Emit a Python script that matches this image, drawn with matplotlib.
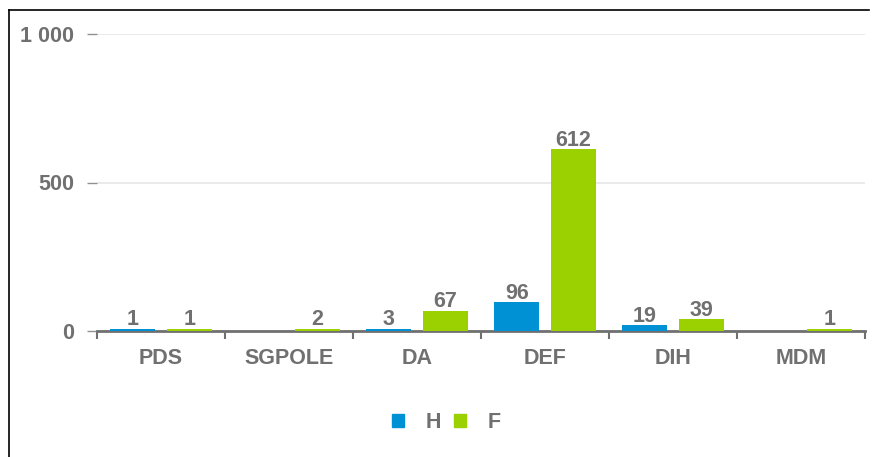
import numpy as np
import matplotlib.pyplot as plt
from matplotlib.patches import Patch
from matplotlib.lines import Line2D

# Données
categories = ['PDS', 'SGPOLE', 'DA', 'DEF', 'DIH', 'MDM']
h_values = [1, 0, 3, 96, 19, 0]
f_values = [1, 2, 67, 612, 39, 1]
y_ticks = [0, 500, 1000]
y_labels = ['0', '500', '1 000']

blue = '#0091d5'
green = '#9bd100'
grey = '#707070'

plt.rcParams['font.family'] = ['Liberation Sans', 'DejaVu Sans']
plt.rcParams['font.weight'] = 'bold'

W, H = 872, 457
fs = 15.5
fig = plt.figure(figsize=(W / 100, H / 100), dpi=100)
ax = fig.add_axes([97 / W, 126 / H, (865 - 97) / W, (331 - 34) / H])

x = np.arange(len(categories))
width = 0.35
offset = 0.22
min_len = 7  # longueur minimale visible des barres

for vals, col, dx in [(h_values, blue, -offset), (f_values, green, offset)]:
    for xi, v in zip(x, vals):
        if v <= 0:
            continue
        ax.bar(xi + dx, max(v, min_len), width, color=col, linewidth=0, zorder=6)
        ax.annotate(str(v), (xi + dx, max(v, min_len)), xytext=(0, -1),
                    textcoords='offset points', ha='center', va='bottom',
                    fontsize=fs, color=grey, fontweight='bold', zorder=7)

ax.set_xlim(-0.5, len(categories) - 0.5)
ax.set_ylim(0, 1000)

# Grille
ax.set_yticks(y_ticks)
ax.set_yticklabels(y_labels)
ax.yaxis.grid(True, color='#e6e6e6', linewidth=1.2, zorder=0)
ax.tick_params(axis='y', length=7.5, width=1, color='#909090', pad=9,
               labelsize=fs, labelcolor=grey)

ax.set_xticks(x)
ax.set_xticklabels(categories)
ax.set_xticks(np.arange(len(categories) + 1) - 0.5, minor=True)
ax.tick_params(axis='x', which='major', length=0, pad=12, labelsize=fs, labelcolor=grey)
ax.tick_params(axis='x', which='minor', length=6, width=1.5, color=grey)

for s in ['top', 'right', 'left']:
    ax.spines[s].set_visible(False)
ax.spines['bottom'].set_color(grey)
ax.spines['bottom'].set_linewidth(2)
ax.spines['bottom'].set_zorder(5)

# Légende
handles = [Patch(color=blue, label='H'), Patch(color=green, label='F')]
fig.legend(handles=handles, loc='center', bbox_to_anchor=(446 / W, 1 - 423 / H),
           ncol=2, frameon=False, handlelength=0.56, handleheight=0.56,
           handletextpad=1.0, columnspacing=0.6,
           prop={'size': fs, 'weight': 'bold'}, labelcolor=grey)

# Cadre (haut et gauche)
fig.add_artist(Line2D([9 / W, 869 / W], [1 - 10 / H, 1 - 10 / H], color='black', linewidth=1.2))
fig.add_artist(Line2D([9 / W, 9 / W], [0, 1 - 10 / H], color='black', linewidth=1.2))

plt.savefig('out.png', dpi=100)
